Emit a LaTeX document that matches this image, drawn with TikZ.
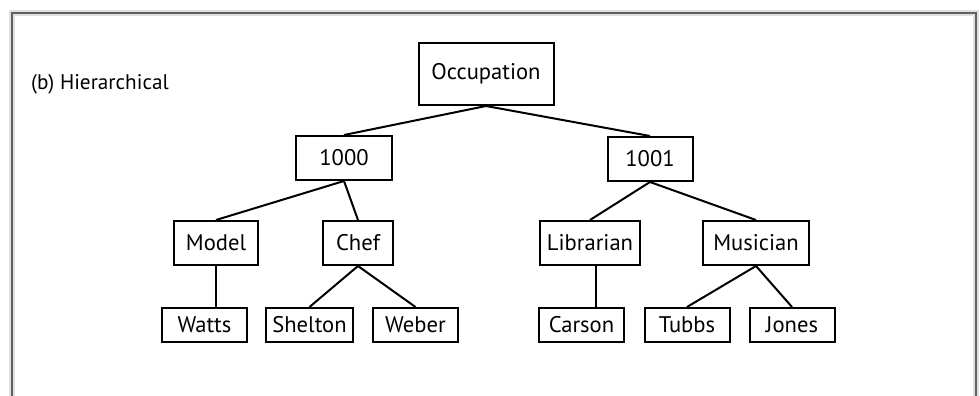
\documentclass[tikz,border=0pt]{standalone}
\usepackage{fontspec}
\setmainfont{PT Sans}
\usetikzlibrary{positioning}

\begin{document}
\begin{tikzpicture}[
    x=0.5pt, y=-0.5pt,
    every node/.style={font=\fontsize{11.3}{14}\selectfont},
    rootbox/.style={rectangle, draw, line width=1pt, minimum width=67.5pt, minimum height=31pt},
    codebox/.style={rectangle, draw, line width=1pt, minimum height=22pt},
    jobbox/.style={rectangle, draw, line width=1pt, minimum height=22pt},
    namebox/.style={rectangle, draw, line width=1pt, minimum height=17pt, minimum width=42.5pt},
    link/.style={line width=1pt}
]
    \useasboundingbox (0,0) rectangle (980,396);

    % frame
    \draw[gray!25, line width=3pt] (12,398) -- (12,13) -- (976,13) -- (976,398);
    \draw[gray!75!black, line width=1pt] (12,398) -- (12,13) -- (976,13) -- (976,398);

    \node[font=\fontsize{10.6}{13}\selectfont] (title) at (100,84) {(b) Hierarchical};

    \node[rootbox] (occ) at (486,74) {Occupation};

    \node[codebox, minimum width=48pt] (c1000) at (344,158) {1000};
    \node[codebox, minimum width=42.5pt] (c1001) at (650,159) {1001};

    \node[jobbox, minimum width=42pt] (model) at (216,243) {Model};
    \node[jobbox, minimum width=35pt] (chef) at (358,243) {Chef};
    \node[jobbox, minimum width=48pt] (lib) at (590,243) {Librarian};
    \node[jobbox, minimum width=53pt] (mus) at (756,243) {Musician};

    \node[namebox] (watts) at (204.5,325) {Watts};
    \node[namebox] (shelton) at (309.5,325) {Shelton};
    \node[namebox] (weber) at (415.5,325) {Weber};
    \node[namebox] (carson) at (581.5,325) {Carson};
    \node[namebox] (tubbs) at (687,325) {Tubbs};
    \node[namebox] (jones) at (792,325) {Jones};

    \draw[link] (occ.south) -- (c1000.north);
    \draw[link] (occ.south) -- (c1001.north);
    \draw[link] (c1000.south) -- (model.north);
    \draw[link] (c1000.south) -- (chef.north);
    \draw[link] (c1001.south) -- (lib.north);
    \draw[link] (c1001.south) -- (mus.north);
    \draw[link] (model.south) -- (model.south |- watts.north);
    \draw[link] (chef.south) -- (shelton.north);
    \draw[link] (chef.south) -- (weber.north);
    \draw[link] ([xshift=3pt]lib.south) -- ([xshift=3pt]lib.south |- carson.north);
    \draw[link] (mus.south) -- (tubbs.north);
    \draw[link] (mus.south) -- (jones.north);
\end{tikzpicture}
\end{document}
